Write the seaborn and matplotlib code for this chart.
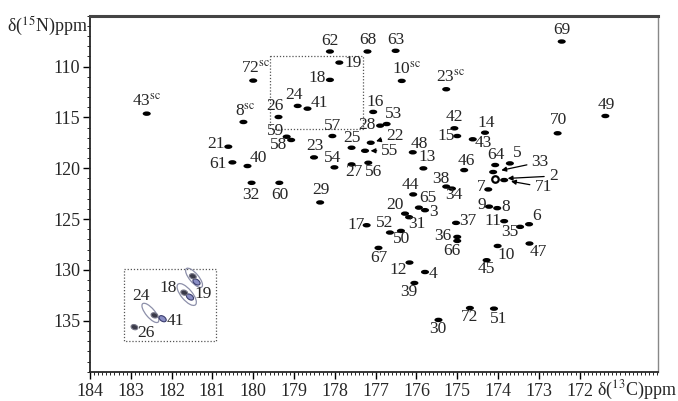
import numpy as np
import pandas as pd
import seaborn as sns
import matplotlib
matplotlib.use("Agg")
import matplotlib.pyplot as plt
from matplotlib.path import Path
from matplotlib.patches import Ellipse, Rectangle
from matplotlib.transforms import Affine2D, ScaledTranslation
from matplotlib.ticker import MultipleLocator

# peak list: label, 13C shift, 15N shift
labels = ['43sc', '72sc', '8sc', '26', '24', '41', '62', '18', '19', '68',
          '63', '10sc', '23sc', '69', '21', '61', '40', '59', '58', '57',
          '23', '54', '32', '60', '29', '16', '53', '28', '49', '70',
          '42', '14', '15', '43', '25', '22', '55', '48', '27', '56',
          '13', '46', '64', '5', '33', '2', '71', '38', '34', '7',
          '44', '65', '3', '20', '31', '9', '8', '17', '52', '50',
          '37', '11', '35', '6', '36', '66', '67', '10', '47', '12',
          '4', '45', '39', '72', '51', '30']
c13 = [182.61, 180.00, 180.24, 179.38, 178.91, 178.67, 178.12, 178.12, 177.89, 177.20,
       176.51, 176.36, 175.27, 172.44, 180.61, 180.51, 180.14, 179.18, 179.07, 178.06,
       178.51, 178.01, 180.04, 179.36, 178.36, 177.06, 176.73, 176.89, 171.37, 172.54,
       175.07, 174.32, 175.00, 174.62, 177.59, 177.12, 177.26, 176.09, 177.59, 177.18,
       175.83, 174.83, 174.07, 173.71, 174.12, 174.07, 173.85, 175.27, 175.13, 174.24,
       176.08, 175.94, 175.79, 176.28, 176.18, 174.22, 174.02, 177.22, 176.65, 176.38,
       175.03, 173.85, 173.46, 173.24, 175.00, 175.00, 176.93, 174.01, 173.23, 176.17,
       175.79, 174.28, 176.05, 174.69, 174.10, 175.46]
n15 = [114.63, 111.38, 115.45, 114.96, 113.87, 114.14, 108.52, 111.31, 109.61, 108.52,
       108.45, 111.41, 112.23, 107.54, 117.88, 119.42, 119.78, 116.90, 117.22, 116.83,
       118.93, 119.91, 121.43, 121.43, 123.36, 114.46, 115.65, 115.81, 114.86, 116.56,
       116.07, 116.50, 116.83, 117.15, 117.98, 117.49, 118.28, 118.43, 119.62, 119.46,
       120.01, 120.18, 119.68, 119.52, 120.37, 121.06, 121.16, 121.80, 122.00, 122.08,
       122.57, 123.87, 124.12, 124.46, 124.81, 123.77, 123.92, 125.60, 126.32, 126.16,
       125.37, 125.20, 125.76, 125.50, 126.75, 127.14, 127.83, 127.64, 127.40, 129.27,
       130.20, 129.04, 131.28, 133.74, 133.80, 134.91]
open_peaks = ['2']

# label placement (pixels from the peak)
label_offsets = {
    '43sc': (0, -11), '72sc': (2, -11), '8sc': (2, -10), '10sc': (5, -11), '23sc': (4, -11),
    '26': (-4, -10), '24': (-4, -10), '41': (12, -5), '62': (0, -10), '18': (-13, -1),
    '19': (14, 1), '68': (0, -11), '63': (0, -10), '69': (0, -11), '21': (-12, -2),
    '61': (-14, 3), '40': (11, -7), '59': (-11, -5), '58': (-13, 6), '57': (0, -9),
    '23': (1, -10), '54': (-2, -8), '32': (-1, 13), '60': (1, 13), '29': (1, -11),
    '16': (2, -9), '53': (7, -9), '28': (-13, 0), '49': (1, -10), '70': (1, -12),
    '42': (0, -10), '14': (1, -9), '15': (-11, 1), '43': (11, 5), '25': (0, -9),
    '48': (7, -7), '27': (2, 9), '56': (5, 10), '13': (4, -10), '46': (2, -8),
    '64': (1, -9), '5': (7, -9), '38': (-5, -7), '34': (2, 7), '7': (-7, -1),
    '44': (-3, -8), '65': (9, -9), '3': (8, 3), '20': (-10, -8), '31': (8, 8),
    '9': (-7, -1), '8': (8, 0), '17': (-11, 1), '52': (-5, -9), '50': (1, 9),
    '37': (12, -1), '11': (-11, 1), '35': (-10, 6), '6': (8, -7), '36': (-14, 0),
    '66': (-5, 11), '67': (0, 11), '10': (9, 10), '47': (9, 9), '12': (-11, 8),
    '4': (8, 3), '45': (0, 10), '39': (-6, 10), '72': (0, 10), '51': (5, 11),
    '30': (-1, 10),
}
# labels joined to their peak by an arrow: offset, shrink at the peak
arrow_labels = {'22': ((24, -6), 4), '55': ((25, 1), 4), '33': ((47, -9), 6),
                '2': ((58, -2), 9), '71': ((39, 8), 5)}

# inset: contours of the side-chain region
inset_outer = {'19': (181.45, 130.77, 24, 9), '18': (181.63, 132.41, 27, 11),
               '24': (182.52, 134.22, 24, 9)}
inset_dark = {'19': (181.48, 130.62), '18': (181.69, 132.23),
              '24': (182.42, 134.46), '26': (182.91, 135.62)}
inset_blue = {'19': (181.39, 131.18), '18': (181.55, 132.66), '41': (182.22, 134.79)}
inset_label_offsets = {'18': ('18', (181.63, 132.41), (-19, -5)),
                       '19': ('19', (181.45, 130.77), (9, 17)),
                       '24': ('24', (182.52, 134.22), (-9, -16)),
                       '41': ('41', (182.22, 134.79), (13, 3)),
                       '26': ('26', (182.91, 135.62), (11, 7))}
inset_box = (183.16, 129.86, 180.90, 137.03)
zoom_box = (179.59, 108.95, 177.32, 116.14)

df = pd.DataFrame({'label': labels, 'c': c13, 'n': n15})

sns.set_style('ticks')
plt.rcParams['font.family'] = ['Liberation Serif', 'DejaVu Serif']
plt.rcParams['mathtext.fontset'] = 'stix'

fig = plt.figure(figsize=(6.78, 4.01), dpi=100)
ax = fig.add_axes([90 / 678, 1 - 371.7 / 401, 568 / 678, 356 / 401])

lab_fs = 12.5
tick_fs = 13

ell = Path.unit_circle().transformed(Affine2D().scale(1, 0.55))
solid = df[~df['label'].isin(open_peaks)]
hollow = df[df['label'].isin(open_peaks)]
sns.scatterplot(data=solid, x='c', y='n', marker=ell, s=34, color='black',
                edgecolor='none', ax=ax, legend=False, zorder=3)
ax.scatter(hollow['c'], hollow['n'], marker='o', s=22, facecolor='white',
           edgecolor='black', linewidth=1.6, zorder=3)

for lab, x, y in zip(df['label'], df['c'], df['n']):
    txt = lab.replace('sc', r'$^{\mathrm{sc}}$')
    if lab in arrow_labels:
        off, shr = arrow_labels[lab]
        ax.annotate(txt, xy=(x, y), xytext=(off[0], -off[1] + 1), textcoords='offset pixels',
                    ha='center', va='center', fontsize=lab_fs,
                    arrowprops=dict(arrowstyle='-|>', color='black', lw=0.9,
                                    mutation_scale=7, shrinkA=1, shrinkB=shr))
    else:
        off = label_offsets[lab]
        ax.annotate(txt, xy=(x, y), xytext=(off[0], -off[1] + 1), textcoords='offset pixels',
                    ha='center', va='center', fontsize=lab_fs)

# dotted boxes
for (x0, y0, x1, y1) in [zoom_box, inset_box]:
    ax.add_patch(Rectangle((x0, y0), x1 - x0, y1 - y0, fill=False,
                           linestyle=(0, (1, 1.5)), edgecolor='#555555', lw=0.9))

# inset contours
def blob(x, y, w, h, angle, **kw):
    tr = fig.dpi_scale_trans + ScaledTranslation(x, y, ax.transData)
    ax.add_patch(Ellipse((0, 0), w / 100, h / 100, angle=angle, transform=tr, **kw))

for k, (x, y, w, h) in inset_outer.items():
    blob(x, y, w, h, -50, fill=False, edgecolor='#8d90aa', lw=0.9, zorder=2)
for k, (x, y) in inset_blue.items():
    blob(x, y, 8, 5, -35, facecolor='#8a8ec4', edgecolor='#3a3d6e', lw=0.8, zorder=3)
for k, (x, y) in inset_dark.items():
    blob(x, y, 7, 5, -20, facecolor='#3a3a48', edgecolor='#777788', lw=0.8, zorder=4)
for k, (txt, (x, y), off) in inset_label_offsets.items():
    ax.annotate(txt, xy=(x, y), xytext=(off[0], -off[1] + 1), textcoords='offset pixels',
                ha='center', va='center', fontsize=lab_fs)

ax.set_xlim(184, 170.08)
ax.set_ylim(140, 105)
ax.set_xticks(np.arange(184, 171, -1))
ax.set_yticks(np.arange(110, 136, 5))
ax.xaxis.set_minor_locator(MultipleLocator(0.1))
ax.yaxis.set_minor_locator(MultipleLocator(1))
ax.tick_params(axis='both', which='major', direction='out', length=5, width=1,
               labelsize=tick_fs, color='black')
ax.tick_params(axis='both', which='minor', direction='out', length=2.5, width=0.7)
ax.tick_params(axis='x', pad=3)
ax.tick_params(axis='y', pad=2)
ax.set_xlabel('')
ax.set_ylabel('')

ax.spines['left'].set_linewidth(1.3)
ax.spines['bottom'].set_linewidth(1.3)
ax.spines['top'].set_linewidth(2.2)
ax.spines['top'].set_color('#444444')
ax.spines['right'].set_linewidth(1.0)
ax.spines['right'].set_color('#888888')

fig.text(47 / 678, 1 - 26 / 401, '\u03b4($^{15}$N)ppm', ha='center', va='center', fontsize=tick_fs)
fig.text(637 / 678, 1 - 390 / 401, '\u03b4($^{13}$C)ppm', ha='center', va='center', fontsize=tick_fs)

fig.savefig('out.png', dpi=100)
